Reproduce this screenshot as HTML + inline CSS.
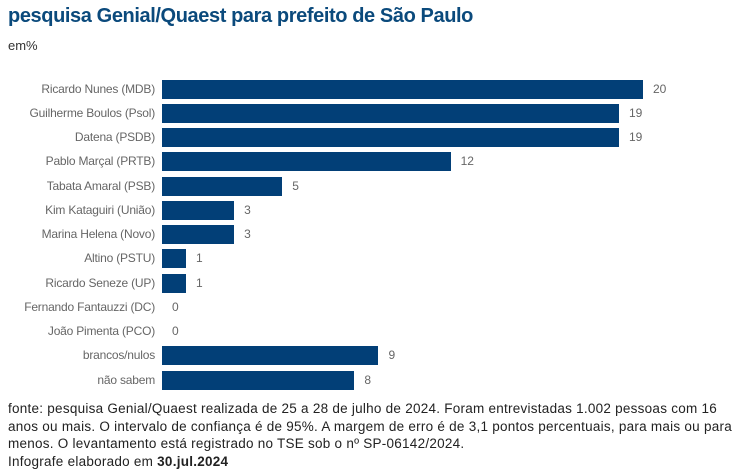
<!DOCTYPE html>
<html><head><meta charset="utf-8"><style>
body{margin:0;width:735px;height:472px;background:#fff;font-family:"Liberation Sans",sans-serif;position:relative;overflow:hidden}
.t{position:absolute;left:8px;top:5px;font-size:20px;font-weight:bold;color:#0b4a7c;letter-spacing:-0.4px;white-space:nowrap}
.s{position:absolute;left:8px;top:38px;font-size:13px;color:#333}
.l{position:absolute;right:580px;font-size:12px;color:#666;white-space:nowrap;letter-spacing:-0.2px}
.b{position:absolute;left:162px;height:19px;background:#023f77}
.v{position:absolute;font-size:12px;color:#666}
.f{position:absolute;left:8px;top:400px;width:727px;font-size:13.5px;line-height:17.5px;color:#222;white-space:nowrap}
</style></head><body>
<div class="t">pesquisa Genial/Quaest para prefeito de São Paulo</div>
<div class="s">em%</div>
<div id="c"></div>
<div class="f"><span id="l1">fonte: pesquisa Genial/Quaest realizada de 25 a 28 de julho de 2024. Foram entrevistadas 1.002 pessoas com 16</span><br>anos ou mais. O intervalo de confiança é de 95%. A margem de erro é de 3,1 pontos percentuais, para mais ou para<br>menos. O levantamento está registrado no TSE sob o nº SP-06142/2024.<br>Infografe elaborado em <b>30.jul.2024</b></div>
<script>
var d=[["Ricardo Nunes (MDB)",20],["Guilherme Boulos (Psol)",19],["Datena (PSDB)",19],["Pablo Marçal (PRTB)",12],["Tabata Amaral (PSB)",5],["Kim Kataguiri (União)",3],["Marina Helena (Novo)",3],["Altino (PSTU)",1],["Ricardo Seneze (UP)",1],["Fernando Fantauzzi (DC)",0],["João Pimenta (PCO)",0],["brancos/nulos",9],["não sabem",8]];
var h="";d.forEach(function(r,i){var y=79.5+i*24.25;var w=r[1]*24.05;
h+='<div class="l" style="top:'+(y+2)+'px">'+r[0]+'</div>';
if(w)h+='<div class="b" style="top:'+y+'px;width:'+w+'px"></div>';
h+='<div class="v" style="top:'+(y+2)+'px;left:'+(162+w+10)+'px">'+r[1]+'</div>';});
document.getElementById("c").innerHTML=h;
var s=document.getElementById('l1');var w=s.getBoundingClientRect().width;var n=s.textContent.length;
document.querySelector('.f').style.letterSpacing=((709-w)/n)+'px';
</script>
</body></html>
